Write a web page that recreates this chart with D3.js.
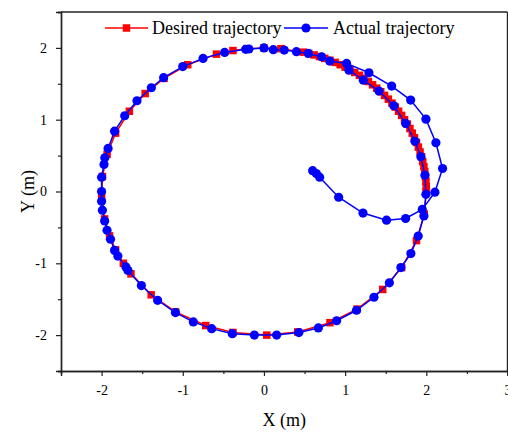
<!DOCTYPE html>
<html>
<head>
<meta charset="utf-8">
<script src="https://cdn.jsdelivr.net/npm/d3@7"></script>
<style>
  html, body { margin: 0; padding: 0; background: #fff; }
  svg { display: block; }
  text { font-family: "Liberation Serif", "Times New Roman", serif; fill: #000; }
</style>
</head>
<body>
<svg id="chart" width="508" height="432"></svg>
<script>
// Desired trajectory (reference circle, radius 2 m)
const desiredX = [2.000, 1.999, 1.995, 1.989, 1.981, 1.970, 1.956, 1.941, 1.923, 1.902,
  1.879, 1.854, 1.827, 1.798, 1.766, 1.732, 1.696, 1.658, 1.618, 1.576,
  1.532, 1.486, 1.439, 1.389, 1.338, 1.286, 1.231, 1.176, 1.118, 1.060,
  1.000, 0.939, 0.877, 0.813, 0.749, 0.684, 0.618, 0.551, 0.484,
  0.209, 0.000, -0.209, -0.382, -0.585, -0.939, -1.231, -1.463, -1.658, -1.827,
  -1.932, -1.989, -1.999, -1.963, -1.902, -1.827, -1.732, -1.638, -1.389, -1.089,
  -0.717, -0.382, 0.035, 0.416, 0.813, 1.147, 1.463, 1.696, 1.879, 1.975, 2.000];
const desiredY = [0.000, 0.070, 0.140, 0.209, 0.278, 0.347, 0.416, 0.484, 0.551, 0.618,
  0.684, 0.749, 0.813, 0.877, 0.939, 1.000, 1.060, 1.118, 1.176, 1.231,
  1.286, 1.338, 1.389, 1.439, 1.486, 1.532, 1.576, 1.618, 1.658, 1.696,
  1.732, 1.766, 1.798, 1.827, 1.854, 1.879, 1.902, 1.923, 1.941,
  1.989, 2.000, 1.989, 1.963, 1.913, 1.766, 1.576, 1.364, 1.118, 0.813,
  0.518, 0.209, -0.070, -0.382, -0.618, -0.813, -1.000, -1.147, -1.439, -1.677,
  -1.867, -1.963, -2.000, -1.956, -1.827, -1.638, -1.364, -1.060, -0.684, -0.313, 0.000];

// Actual trajectory (starts inside the circle and converges onto it)
const actualX = [0.600, 0.645, 0.686, 0.920, 1.220, 1.510, 1.745, 1.950, 2.106, 2.200,
  2.118, 1.995, 1.807, 1.573, 1.293, 1.018,
  0.810, 0.710, 0.547, 0.400, 0.250, 0.115, 0.000, -0.185, -0.225, -0.484,
  -0.750, -1.000, -1.236, -1.387, -1.564, -1.715, -1.840, -1.920, -1.960, -1.970,
  -2.000, -2.000, -2.000, -1.990, -1.962, -1.933, -1.890, -1.840, -1.800, -1.700,
  -1.675, -1.510, -1.310, -1.090, -0.870, -0.644, -0.390, -0.118, 0.156, 0.430,
  0.670, 0.895, 1.140, 1.355, 1.545, 1.687, 1.810, 1.900, 1.970, 1.995,
  1.983, 1.933, 1.860, 1.745, 1.600, 1.416, 1.224, 1.047];
const actualY = [0.290, 0.250, 0.200, -0.080, -0.300, -0.400, -0.376, -0.250, -0.010, 0.320,
  0.679, 1.008, 1.273, 1.468, 1.654, 1.784,
  1.816, 1.877, 1.923, 1.947, 1.970, 1.975, 2.000, 1.985, 1.980, 1.937,
  1.854, 1.740, 1.585, 1.445, 1.264, 1.055, 0.840, 0.600, 0.470, 0.376,
  0.200, 0.000, -0.135, -0.260, -0.410, -0.540, -0.665, -0.820, -0.900, -1.050,
  -1.100, -1.310, -1.515, -1.686, -1.816, -1.910, -1.980, -2.000, -2.000, -1.965,
  -1.900, -1.800, -1.654, -1.473, -1.272, -1.060, -0.864, -0.620, -0.340, -0.040,
  0.227, 0.484, 0.700, 0.948, 1.194, 1.400, 1.550, 1.690];

const xTickValues = [-2, -1, 0, 1, 2, 3];
const yTickValues = [-2, -1, 0, 1, 2];
const xMinorTicks = [-2.5, -1.5, -0.5, 0.5, 1.5, 2.5];
const yMinorTicks = [-2.5, -1.5, -0.5, 0.5, 1.5, 2.5];
const seriesNames = ["Desired trajectory", "Actual trajectory"];

const svg = d3.select("#chart");
const plotLeft = 61, plotRight = 507.5, plotTop = 12, plotBottom = 371;

const x = d3.scaleLinear().domain([-2.5, 3]).range([plotLeft, plotRight]);
const y = d3.scaleLinear().domain([-2.5, 2.5]).range([plotBottom, plotTop]);

const desired = desiredX.map((d, i) => ({ x: d, y: desiredY[i] }));
const actual = actualX.map((d, i) => ({ x: d, y: actualY[i] }));

// Axes: minor ticks first, then labelled major ticks
const styleAxis = g => {
  g.selectAll(".domain").attr("stroke", "#222").attr("stroke-width", 1.4);
  g.selectAll(".tick line").attr("stroke", "#222").attr("stroke-width", 1.2);
  g.selectAll("text").style("font-family", "'Liberation Serif', serif").style("font-size", "14px").attr("fill", "#000");
};

svg.append("g").attr("transform", `translate(0,${plotBottom})`)
  .call(d3.axisBottom(x).tickValues(xMinorTicks).tickSize(3).tickFormat(""))
  .call(styleAxis);
svg.append("g").attr("transform", `translate(0,${plotBottom})`)
  .call(d3.axisBottom(x).tickValues(xTickValues).tickSize(5).tickPadding(9).tickFormat(d => String(d)))
  .call(styleAxis);

svg.append("g").attr("transform", `translate(${plotLeft},0)`)
  .call(d3.axisLeft(y).tickValues(yMinorTicks).tickSize(3).tickFormat(""))
  .call(styleAxis);
svg.append("g").attr("transform", `translate(${plotLeft},0)`)
  .call(d3.axisLeft(y).tickValues(yTickValues).tickSize(5).tickPadding(9).tickFormat(d => String(d)))
  .call(styleAxis);

// Frame top and right
svg.append("line").attr("x1", plotLeft).attr("x2", plotRight).attr("y1", plotTop).attr("y2", plotTop)
  .attr("stroke", "#222").attr("stroke-width", 1.4);
svg.append("line").attr("x1", plotRight).attr("x2", plotRight).attr("y1", plotTop).attr("y2", plotBottom)
  .attr("stroke", "#222").attr("stroke-width", 1.4);

// Axis titles
svg.append("text").attr("x", (plotLeft + plotRight) / 2).attr("y", 426)
  .attr("text-anchor", "middle").style("font-size", "18px").text("X (m)");
svg.append("text").attr("transform", `translate(34,${(plotTop + plotBottom) / 2}) rotate(-90)`)
  .attr("text-anchor", "middle").style("font-size", "18px").text("Y (m)");

const line = d3.line().x(d => x(d.x)).y(d => y(d.y));
const red = "#ff0000", blue = "#0000ff";
const sq = 7.5, r = 4.6;

// Desired trajectory
svg.append("path").datum(desired).attr("d", line)
  .attr("fill", "none").attr("stroke", red).attr("stroke-width", 1.5);
svg.append("g").selectAll("rect").data(desired).join("rect")
  .attr("x", d => x(d.x) - sq / 2).attr("y", d => y(d.y) - sq / 2)
  .attr("width", sq).attr("height", sq).attr("fill", red);

// Actual trajectory
svg.append("path").datum(actual).attr("d", line)
  .attr("fill", "none").attr("stroke", blue).attr("stroke-width", 1.5);
svg.append("g").selectAll("circle").data(actual).join("circle")
  .attr("cx", d => x(d.x)).attr("cy", d => y(d.y)).attr("r", r).attr("fill", blue);

// Legend
const legendY = 28;
const lg = svg.append("g");
lg.append("line").attr("x1", 105).attr("x2", 148).attr("y1", legendY).attr("y2", legendY)
  .attr("stroke", red).attr("stroke-width", 1.5);
lg.append("rect").attr("x", 126.5 - sq / 2).attr("y", legendY - sq / 2)
  .attr("width", sq).attr("height", sq).attr("fill", red);
lg.append("text").attr("x", 152).attr("y", legendY + 6).style("font-size", "18px").text(seriesNames[0]);
lg.append("line").attr("x1", 284).attr("x2", 328).attr("y1", legendY).attr("y2", legendY)
  .attr("stroke", blue).attr("stroke-width", 1.5);
lg.append("circle").attr("cx", 306).attr("cy", legendY).attr("r", r).attr("fill", blue);
lg.append("text").attr("x", 333).attr("y", legendY + 6).style("font-size", "18px").text(seriesNames[1]);
</script>
</body>
</html>
